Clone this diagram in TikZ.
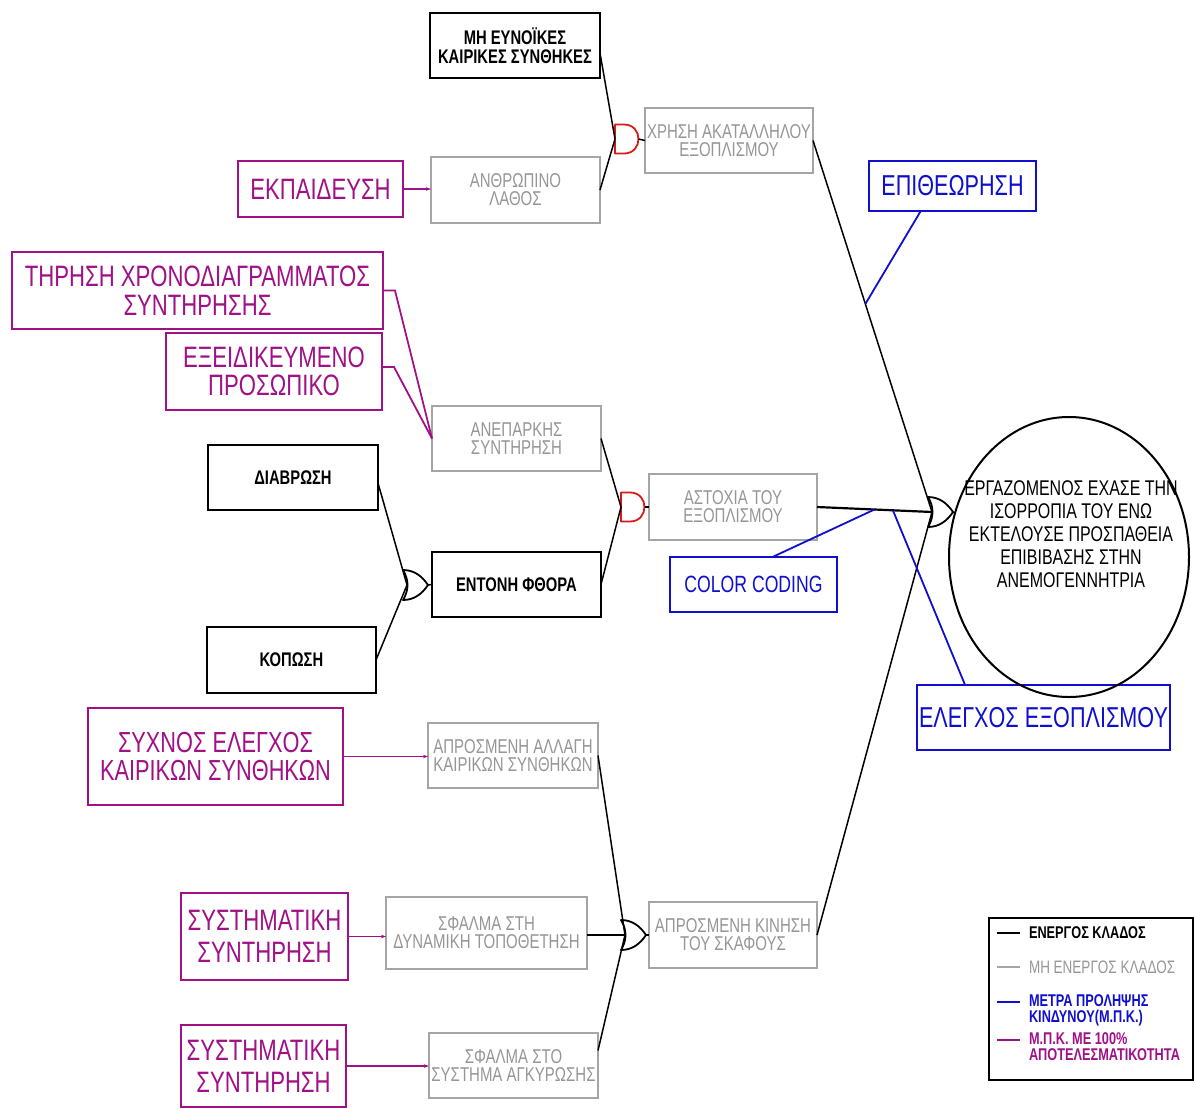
\documentclass[tikz,border=0pt]{standalone}
\usepackage{fontspec}
\setmainfont{Liberation Sans}[FakeStretch=0.75]
\usetikzlibrary{shapes.geometric,calc,arrows.meta}

\definecolor{mpk}{RGB}{160,16,135}
\definecolor{prev}{RGB}{15,15,205}
\definecolor{inact}{RGB}{150,150,150}
\definecolor{inactline}{RGB}{165,165,165}
\definecolor{gatered}{RGB}{220,25,25}

\tikzset{
  blackbox/.style={draw=black, line width=2pt, align=center, text=black,
    font=\fontsize{19.7}{19}\selectfont\bfseries},
  graybox/.style={draw=inactline, line width=1.8pt, align=center, text=inact,
    font=\fontsize{20}{18}\selectfont},
  mpkbox/.style={draw=mpk, line width=2pt, align=center, text=mpk,
    font=\fontsize{29.5}{28.5}\selectfont},
  prevbox/.style={draw=prev, line width=2pt, align=center, text=prev,
    font=\fontsize{28.8}{28}\selectfont},
  legtext/.style={align=left, font=\fontsize{17}{15.5}\selectfont\bfseries},
  branch/.style={black, line width=1.5pt},
  mpklink/.style={mpk, line width=1.8pt},
  mpkarrow/.style={mpklink, -{Stealth[length=5pt,width=3.5pt]}},
  prevlink/.style={prev, line width=1.8pt},
  gatebody/.style={line width=1.8pt, line join=round},
  andgate/.pic={
    \draw[gatebody, draw=gatered] (0,-14.5) -- (9,-14.5)
      .. controls (28.3,-14.5) and (28.3,14.5) .. (9,14.5) -- (0,14.5) -- cycle;
    \coordinate (-in) at (0,0);
    \coordinate (-out) at (23.5,0);
  },
  orgate/.pic={
    \draw[gatebody, draw=black] (0,-15) .. controls (11,-15) and (19,-9) .. (25,0)
      .. controls (19,9) and (11,15) .. (0,15)
      .. controls (6,5) and (6,-5) .. cycle;
    \coordinate (-in) at (4,0);
    \coordinate (-out) at (25,0);
  },
}

\begin{document}
\begin{tikzpicture}[x=1pt, y=-1pt, every node/.style={inner sep=0pt, outer sep=0pt}]
\fill[white] (0,0) rectangle (1195,1109);
\useasboundingbox (0,0) rectangle (1195,1109);

% ---- upper branch
\node[blackbox, minimum width=170, minimum height=65] (mh) at (515,45.5) {ΜΗ ΕΥΝΟΪΚΕΣ\\ΚΑΙΡΙΚΕΣ ΣΥΝΘΗΚΕΣ};
\node[graybox, minimum width=169, minimum height=66] (anthr) at (515.5,190) {ΑΝΘΡΩΠΙΝΟ\\ΛΑΘΟΣ};
\node[graybox, minimum width=168, minimum height=65] (chrisi) at (729,140.5) {ΧΡΗΣΗ ΑΚΑΤΑΛΛΗΛΟΥ\\ΕΞΟΠΛΙΣΜΟΥ};
\node[mpkbox, minimum width=165, minimum height=56] (ekpaid) at (320.5,189) {ΕΚΠΑΙΔΕΥΣΗ};
\node[prevbox, minimum width=167, minimum height=50] (epith) at (952.5,186) {ΕΠΙΘΕΩΡΗΣΗ};

% ---- middle branch
\node[mpkbox, minimum width=371, minimum height=77] (tirisi) at (197.5,290.5) {ΤΗΡΗΣΗ ΧΡΟΝΟΔΙΑΓΡΑΜΜΑΤΟΣ\\ΣΥΝΤΗΡΗΣΗΣ};
\node[mpkbox, minimum width=216, minimum height=77] (exeid) at (274,371.5) {ΕΞΕΙΔΙΚΕΥΜΕΝΟ\\ΠΡΟΣΩΠΙΚΟ};
\node[graybox, minimum width=169, minimum height=65] (anep) at (516.5,438.5) {ΑΝΕΠΑΡΚΗΣ\\ΣΥΝΤΗΡΗΣΗ};
\node[blackbox, minimum width=170, minimum height=65] (diav) at (293,477.5) {ΔΙΑΒΡΩΣΗ};
\node[blackbox, minimum width=169, minimum height=65] (entoni) at (516.5,584.5) {ΕΝΤΟΝΗ ΦΘΟΡΑ};
\node[blackbox, minimum width=169, minimum height=66] (kopo) at (291.5,660) {ΚΟΠΩΣΗ};
\node[graybox, minimum width=168, minimum height=66] (astoch) at (733,507) {ΑΣΤΟΧΙΑ ΤΟΥ\\ΕΞΟΠΛΙΣΜΟΥ};
\node[prevbox, minimum width=167, minimum height=55, font=\fontsize{23.5}{24}\selectfont] (color) at (753.5,584) {COLOR CODING};
\node[prevbox, minimum width=253, minimum height=65] (elegx) at (1043.5,717.5) {ΕΛΕΓΧΟΣ ΕΞΟΠΛΙΣΜΟΥ};

% ---- top event
\node[draw, ellipse, line width=2pt, minimum width=240, minimum height=280] (top) at (1069,557) {};
\node[align=center, font=\fontsize{21.3}{23}\selectfont] (toptxt) at (1071,534)
  {ΕΡΓΑΖΟΜΕΝΟΣ ΕΧΑΣΕ ΤΗΝ\\ΙΣΟΡΡΟΠΙΑ ΤΟΥ ΕΝΩ\\ΕΚΤΕΛΟΥΣΕ ΠΡΟΣΠΑΘΕΙΑ\\ΕΠΙΒΙΒΑΣΗΣ ΣΤΗΝ\\ΑΝΕΜΟΓΕΝΝΗΤΡΙΑ};

% ---- lower branch
\node[mpkbox, minimum width=255, minimum height=97, font=\fontsize{29}{27.5}\selectfont] (sychnos) at (215.5,756.5) {ΣΥΧΝΟΣ ΕΛΕΓΧΟΣ\\ΚΑΙΡΙΚΩΝ ΣΥΝΘΗΚΩΝ};
\node[graybox, minimum width=170, minimum height=65] (allagi) at (513,755.5) {ΑΠΡΟΣΜΕΝΗ ΑΛΛΑΓΗ\\ΚΑΙΡΙΚΩΝ ΣΥΝΘΗΚΩΝ};
\node[mpkbox, minimum width=167, minimum height=87, font=\fontsize{29.5}{32}\selectfont] (syst1) at (264.5,936.5) {ΣΥΣΤΗΜΑΤΙΚΗ\\ΣΥΝΤΗΡΗΣΗ};
\node[graybox, minimum width=201, minimum height=72] (sfalmaD) at (486.5,933) {ΣΦΑΛΜΑ ΣΤΗ\\ΔΥΝΑΜΙΚΗ ΤΟΠΟΘΕΤΗΣΗ};
\node[mpkbox, minimum width=165, minimum height=82, font=\fontsize{29.5}{32}\selectfont] (syst2) at (263.5,1066) {ΣΥΣΤΗΜΑΤΙΚΗ\\ΣΥΝΤΗΡΗΣΗ};
\node[graybox, minimum width=169, minimum height=65] (sfalmaA) at (513.5,1065.5) {ΣΦΑΛΜΑ ΣΤΟ\\ΣΥΣΤΗΜΑ ΑΓΚΥΡΩΣΗΣ};
\node[graybox, minimum width=168, minimum height=66] (kinisi) at (733,935) {ΑΠΡΟΣΜΕΝΗ ΚΙΝΗΣΗ\\ΤΟΥ ΣΚΑΦΟΥΣ};

% ---- gates
\pic (gA) at (615,139) {andgate};
\pic (gB) at (621,507) {andgate};
\pic (gC) at (403,585) {orgate};
\pic (gD) at (621,935) {orgate};
\pic (gE) at (928,512) {orgate};

% ---- active / inactive branches
\draw[branch] ([yshift=-7.5pt]mh.east) -- (gA-in);
\draw[branch] (anthr.east) -- (gA-in);
\draw[branch] (gA-out) -- (chrisi.west);

\draw[branch] (anep.east) -- (gB-in);
\draw[branch] (entoni.east) -- (gB-in);
\draw[branch] (gB-out) -- (astoch.west);

\draw[branch] ([yshift=-5.5pt]diav.east) -- (gC-in);
\draw[branch] (kopo.east) -- (gC-in);
\draw[branch] (gC-out) -- (entoni.west);

\draw[branch] (allagi.east) -- (gD-in);
\draw[branch, line width=2.4pt] (sfalmaD.east |- gD-in) -- (gD-in);
\draw[branch] ([yshift=15pt]sfalmaA.east) -- (gD-in);
\draw[branch] (gD-out) -- (kinisi.west);

\draw[branch] (chrisi.east) -- (gE-in);
\draw[branch, line width=2.2pt] (astoch.east) -- (gE-in);
\draw[branch] (kinisi.east) -- (gE-in);
\draw[branch] (gE-out) -- (top);

% ---- fully effective measures
\draw[mpkarrow] (ekpaid.east) -- (ekpaid.east -| anthr.west);
\draw[mpklink] (tirisi.east) -- ++(12,0) -- (anep.west);
\draw[mpklink] ([yshift=4.5pt]exeid.east) -- ++(12,0) -- (anep.west);
\draw[mpkarrow] (sychnos.east) -- (sychnos.east -| allagi.west);
\draw[mpkarrow] (syst1.east) -- (syst1.east -| sfalmaD.west);
\draw[mpkarrow] (syst2.east) -- (syst2.east -| sfalmaA.west);

% ---- prevention measures
\coordinate (pA) at ($(chrisi.east)!0.44!(gE-in)$);
\draw[prevlink] ($(epith.south west)!0.31!(epith.south east)$) -- (pA);
\coordinate (pB) at ($(astoch.east)!0.5!(gE-in)$);
\draw[prevlink] ($(color.north west)!0.62!(color.north east)$) -- (pB);
\coordinate (pC) at ($(astoch.east)!0.66!(gE-in)$);
\draw[prevlink] ($(elegx.north west)!0.19!(elegx.north east)$) -- (pC);

% ---- legend
\node[draw, line width=2.4pt, minimum width=204, minimum height=162] (legend) at (1091,999) {};
\draw[black, line width=1.8pt] (997,933) -- (1020,933);
\draw[inactline, line width=1.8pt] (997,967) -- (1020,967);
\draw[prev, line width=1.8pt] (997,1002) -- (1020,1002);
\draw[mpk, line width=1.8pt] (997,1040) -- (1020,1040);
\node[legtext, anchor=west] (lgA) at (1029,933) {ΕΝΕΡΓΟΣ ΚΛΑΔΟΣ};
\node[legtext, anchor=west, text=inact, font=\fontsize{18}{15.5}\selectfont] (lgB) at (1029,967) {ΜΗ ΕΝΕΡΓΟΣ ΚΛΑΔΟΣ};
\node[legtext, anchor=north west, text=prev] (lgC) at (1029,995) {ΜΕΤΡΑ ΠΡΟΛΗΨΗΣ\\ΚΙΝΔΥΝΟΥ(Μ.Π.Κ.)};
\node[legtext, anchor=north west, text=mpk] (lgD) at (1029,1033) {Μ.Π.Κ. ΜΕ 100\%\\ΑΠΟΤΕΛΕΣΜΑΤΙΚΟΤΗΤΑ};
\end{tikzpicture}
\end{document}
